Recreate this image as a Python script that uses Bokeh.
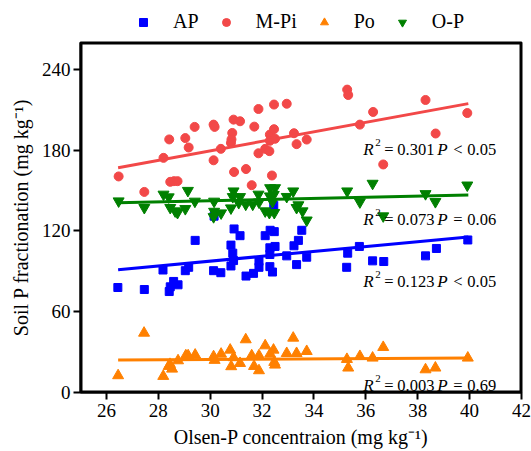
import numpy as np
from bokeh.plotting import figure
from bokeh.layouts import column
from bokeh.models import Range1d, FixedTicker, Legend, LegendItem
from bokeh.core.properties import value
from bokeh.embed import file_html
from bokeh.resources import INLINE

# ---------------- data ----------------
ap_x = [26.44, 27.46, 28.18, 28.42, 28.46, 28.59, 28.76, 29.04, 29.17, 29.42, 30.13, 30.15, 30.41,
        30.80, 30.80, 30.87, 30.90, 30.92, 31.15, 31.38, 31.67, 31.88, 31.88, 32.12, 32.31, 32.47,
        32.30, 32.50, 32.30, 32.30, 32.40, 32.45, 32.95, 33.23, 33.40, 33.53, 33.33, 33.72, 35.30,
        35.26, 35.75, 36.26, 36.69, 38.30, 38.72, 39.93]
ap_y = [78.0, 76.5, 91.0, 75.0, 78.5, 82.5, 80.0, 90.5, 93.0, 113.0, 90.5, 131.0, 89.0,
        94.0, 109.5, 103.5, 98.0, 121.5, 116.5, 86.5, 88.5, 97.5, 93.0, 116.5, 120.5, 119.5,
        107.5, 108.5, 102.5, 93.5, 89.5, 139.0, 101.5, 109.0, 113.0, 120.5, 95.0, 100.5, 103.5,
        93.0, 108.5, 97.8, 97.3, 101.5, 107.0, 113.3]

mpi_x = [26.47, 27.46, 28.20, 28.42, 28.46, 28.60, 28.74, 29.04, 29.17, 29.40, 30.13, 30.17, 30.13,
         30.41, 30.92, 30.85, 30.82, 30.80, 30.90, 31.15, 31.38, 31.60, 31.70, 31.86, 31.86, 32.12,
         32.28, 32.30, 32.46, 32.30, 32.50, 32.38, 32.46, 32.95, 33.23, 33.33, 33.72, 35.28, 35.32,
         35.77, 36.28, 36.67, 38.30, 38.69, 39.91]
mpi_y = [160.5, 149.0, 174.3, 188.0, 156.5, 157.0, 157.0, 189.0, 182.0, 197.3, 199.0, 197.3, 172.5,
         181.0, 163.8, 192.8, 188.0, 185.4, 202.7, 201.5, 166.0, 154.0, 197.5, 210.6, 177.7, 181.0,
         179.3, 191.6, 195.6, 187.0, 188.5, 161.2, 213.9, 214.5, 192.6, 184.5, 187.9, 225.0, 221.0,
         199.0, 208.4, 169.4, 217.3, 192.4, 207.6]

po_x = [26.45, 27.45, 28.19, 28.40, 28.53, 28.45, 28.76, 29.06, 29.15, 29.42, 30.13, 30.17, 30.42,
        30.77, 30.81, 30.90, 31.15, 31.37, 31.60, 31.69, 31.88, 31.88, 32.12, 32.31, 32.44, 32.47,
        32.50, 32.95, 33.20, 33.33, 33.72, 35.27, 35.32, 35.77, 36.26, 36.67, 38.30, 38.68, 39.93]
po_y = [12.6, 44.2, 12.1, 19.5, 17.5, 21.0, 23.7, 27.4, 27.4, 27.9, 26.7, 24.0, 28.6,
        31.6, 19.3, 26.0, 21.7, 39.3, 27.4, 19.5, 16.3, 27.4, 34.8, 28.6, 31.6, 22.5,
        20.5, 29.1, 40.5, 29.1, 30.6, 24.7, 18.3, 26.9, 25.7, 33.6, 17.0, 18.3, 25.7]

op_x = [26.47, 27.46, 28.20, 28.40, 28.46, 28.65, 28.74, 29.04, 29.14, 29.41, 30.15, 30.15, 30.13,
        30.42, 30.80, 30.90, 30.87, 31.15, 31.10, 31.37, 31.64, 31.86, 31.88, 32.12, 32.28, 32.47,
        32.31, 32.50, 32.30, 32.45, 32.40, 32.95, 33.20, 33.33, 33.40, 33.56, 33.72, 35.28, 35.77,
        36.26, 36.67, 38.30, 38.68, 39.91]
op_y = [142.2, 137.3, 147.2, 145.2, 137.3, 134.8, 133.6, 136.5, 150.0, 142.0, 142.0, 134.5, 130.5,
        133.3, 137.0, 149.6, 145.4, 145.4, 141.0, 139.8, 139.8, 147.2, 141.4, 134.8, 133.6, 133.6,
        152.0, 152.0, 145.9, 147.0, 141.7, 145.5, 149.6, 137.3, 139.3, 134.8, 128.0, 149.6, 141.5,
        155.3, 131.1, 147.6, 141.7, 154.0]

# fitted lines (end points)
fit_x = [26.45, 39.95]
ap_fit = [91.1, 115.6]
mpi_fit = [167.0, 214.6]
po_fit = [24.2, 25.7]
op_fit = [141.0, 146.7]

series_names = ["AP", "M-Pi", "Po", "O-P"]
r2_values = ["0.301", "0.073", "0.123", "0.003"]
p_symbols = ["<", "=", "<", "="]
p_numbers = ["0.05", "0.06", "0.05", "0.69"]

x_ticks = [26, 28, 30, 32, 34, 36, 38, 40, 42]
y_ticks = [0, 60, 120, 180, 240]
x_min, x_max = 25, 42
y_min, y_max = 0, 260

# ---------------- styling ----------------
FONT = "Liberation Serif"
C_AP = "#0000FF"
C_MPI = "#F24848"
C_PO = "#FF8000"
C_OP = "#008000"
MARKERS = [("square", 8, C_AP), ("circle", 9, C_MPI),
           ("triangle", 11, C_PO), ("inverted_triangle", 11, C_OP)]

p = figure(width=531, height=417, output_backend="svg", toolbar_location=None,
           x_range=Range1d(x_min, x_max), y_range=Range1d(y_min, y_max),
           min_border_left=80, min_border_right=10, min_border_top=8, min_border_bottom=59)
p.outline_line_color = "black"
p.outline_line_width = 2
p.xgrid.visible = False
p.ygrid.visible = False

for ax in (p.xaxis[0], p.yaxis[0]):
    ax.axis_line_width = 2
    ax.axis_line_color = "black"
    ax.major_tick_line_width = 2
    ax.major_tick_line_color = "black"
    ax.major_tick_out = 7
    ax.major_tick_in = 0
    ax.minor_tick_out = 0
    ax.minor_tick_in = 0
    ax.major_label_text_font = FONT
    ax.major_label_text_font_size = "19px"
    ax.major_label_text_color = "black"
    ax.axis_label_text_font = FONT
    ax.axis_label_text_font_size = "20px"
    ax.axis_label_text_font_style = "normal"
    ax.axis_label_text_color = "black"

p.xaxis.ticker = FixedTicker(ticks=x_ticks)
p.yaxis.ticker = FixedTicker(ticks=y_ticks)
p.xaxis.axis_label = "Olsen-P concentraion (mg kg\u207b\u00b9)"
p.yaxis.axis_label = "Soil P fractionation (mg kg\u207b\u00b9)"
p.xaxis.major_label_standoff = 4
p.xaxis.axis_label_standoff = 6
p.yaxis.major_label_standoff = 3
p.yaxis.axis_label_standoff = 7

# frame box drawn as a glyph along the range limits (half of the width is clipped)
p.line([x_min, x_max, x_max, x_min, x_min], [y_min, y_min, y_max, y_max, y_min],
       line_color="black", line_width=4)

series = [(ap_x, ap_y, ap_fit), (mpi_x, mpi_y, mpi_fit), (po_x, po_y, po_fit), (op_x, op_y, op_fit)]
for (xs, ys, fit), (mk, sz, col) in zip(series, MARKERS):
    p.scatter(xs, ys, marker=mk, size=sz, color=col)
    p.line(fit_x, fit, line_color=col, line_width=3)

# annotations: R^2 and P for each fit
ann_x = 35.9
ann_y = [180.5, 128.6, 82.4, 5.2]
n = len(ann_y)
common = dict(text_font=value(FONT), text_baseline="alphabetic", text_align="left",
              text_color="black")
pieces = [
    (["R"] * n, 0, 0, "17px", "italic"),
    (["2"] * n, 12, -7, "11px", "normal"),
    (["="] * n, 21, 0, "16.5px", "normal"),
    (r2_values, 34, 0, "16.5px", "normal"),
    (["P"] * n, 74, 0, "17px", "italic"),
    (p_symbols, 90, 0, "16.5px", "normal"),
    (p_numbers, 104, 0, "16.5px", "normal"),
]
for txt, dx, dy, fs, style in pieces:
    p.text(x=[ann_x] * n, y=ann_y, text=txt, x_offset=dx, y_offset=dy,
           text_font_size=fs, text_font_style=style, **common)

# legend strip above the plot (its frame is aligned with the main frame)
lg = figure(width=531, height=34, output_backend="svg", toolbar_location=None,
            x_range=Range1d(0, 1), y_range=Range1d(0, 1),
            min_border_left=80, min_border_right=10, min_border_top=0, min_border_bottom=0)
lg.axis.visible = False
lg.grid.visible = False
lg.outline_line_color = None
items = []
for name, (mk, sz, col) in zip(series_names, MARKERS):
    r = lg.scatter(x=[np.nan], y=[np.nan], marker=mk, size=sz, color=col)
    items.append(LegendItem(label=name, renderers=[r]))
legend = Legend(items=items, orientation="horizontal", location=(53, 1),
                border_line_color=None, background_fill_alpha=0,
                label_text_font=FONT, label_text_font_size="20px", label_text_color="black",
                glyph_width=20, glyph_height=20, label_height=20,
                label_standoff=20, spacing=17, padding=0, margin=0)
lg.add_layout(legend, "center")

layout = column(lg, p, spacing=0)
open("out.html", "w").write(file_html(layout, INLINE))
